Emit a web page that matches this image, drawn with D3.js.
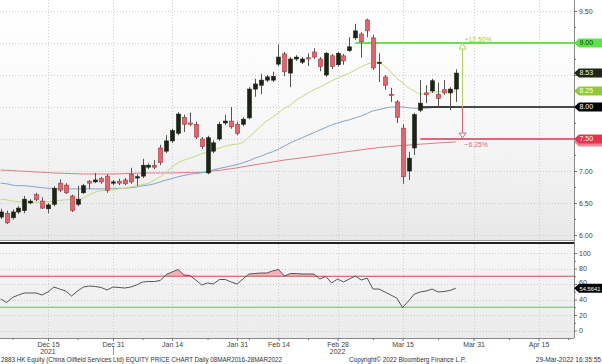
<!DOCTYPE html>
<html>
<head>
<meta charset="utf-8">
<script src="https://cdn.jsdelivr.net/npm/d3@7"></script>
<style>
body { margin: 0; background: #fff; }
svg { display: block; font-family: "Liberation Sans", Arial, sans-serif; }
</style>
</head>
<body>
<script>
// 2883 HK daily candles, 03DEC2021 - 28MAR2022
var holidays = ["2021-12-27", "2022-02-01", "2022-02-02", "2022-02-03"];
var firstDay = "2021-12-03", lastDay = "2022-03-28";

var open = [6.28,6.34,6.27,6.36,6.38,6.50,6.63,6.53,6.41,6.48,
  6.81,6.78,6.61,6.48,6.66,6.84,6.83,6.88,6.92,6.81,
  6.84,6.86,6.95,6.89,6.92,7.06,7.09,7.36,7.31,7.47,
  7.59,7.84,7.75,7.73,7.50,6.97,7.31,7.50,7.75,7.78,
  7.73,7.73,7.83,8.28,8.34,8.42,8.42,8.67,8.83,8.53,
  8.75,8.70,8.77,8.86,8.75,8.50,8.80,8.66,8.80,8.88,
  9.08,9.14,9.36,9.08,8.69,8.47,8.20,8.08,7.67,7.00,
  7.36,7.95,8.22,8.25,8.20,8.27,8.22,8.28];
var high = [6.41,6.38,6.40,6.45,6.61,6.56,6.66,6.59,6.50,6.76,
  6.87,6.81,6.63,6.77,6.80,6.86,6.97,6.91,6.95,6.86,
  6.88,6.89,7.05,6.95,7.19,7.12,7.17,7.41,7.56,7.66,
  7.92,7.88,7.91,7.77,7.53,7.55,7.48,7.77,7.88,8.00,
  7.77,7.84,8.31,8.44,8.52,8.50,8.55,8.98,8.86,8.78,
  8.81,8.78,8.84,8.92,8.78,8.86,8.83,8.86,8.83,9.09,
  9.30,9.17,9.38,9.13,8.84,8.50,8.30,8.11,7.73,7.30,
  7.91,8.42,8.34,8.44,8.38,8.42,8.31,8.59];
var low = [6.25,6.17,6.24,6.33,6.34,6.48,6.53,6.41,6.34,6.45,
  6.67,6.64,6.36,6.45,6.64,6.72,6.81,6.80,6.66,6.78,
  6.78,6.78,6.80,6.77,6.89,7.03,7.03,7.09,7.28,7.44,
  7.56,7.61,7.70,7.50,7.34,6.95,7.28,7.47,7.72,7.66,
  7.56,7.70,7.81,8.16,8.20,8.39,8.39,8.64,8.48,8.31,
  8.72,8.67,8.64,8.75,8.56,8.47,8.59,8.63,8.66,8.86,
  9.05,8.77,9.09,8.58,8.39,8.27,8.08,7.75,6.80,6.86,
  7.25,7.92,8.06,8.22,8.00,8.19,7.95,8.08];
var close = [6.36,6.19,6.36,6.42,6.56,6.53,6.55,6.42,6.47,6.73,
  6.70,6.66,6.38,6.56,6.77,6.81,6.86,6.83,6.70,6.83,
  6.81,6.80,6.83,6.91,7.09,7.09,7.06,7.13,7.47,7.63,
  7.89,7.73,7.73,7.53,7.38,7.52,7.44,7.73,7.78,7.69,
  7.59,7.81,8.28,8.36,8.42,8.47,8.48,8.78,8.55,8.75,
  8.78,8.75,8.75,8.78,8.63,8.84,8.63,8.84,8.72,8.94,
  9.19,9.02,9.19,8.61,8.70,8.34,8.19,7.84,6.91,7.20,
  7.88,8.06,8.19,8.41,8.13,8.22,8.28,8.53];

// moving averages
var maShort = [6.56,6.55,6.53,6.52,6.52,6.51,6.51,6.52,6.52,6.53,
  6.54,6.55,6.55,6.55,6.58,6.63,6.67,6.69,6.70,6.70,
  6.72,6.73,6.75,6.77,6.79,6.81,6.86,6.91,6.98,7.06,
  7.13,7.17,7.20,7.23,7.27,7.30,7.33,7.36,7.39,7.41,
  7.42,7.45,7.53,7.61,7.70,7.78,7.84,7.91,7.98,8.03,
  8.11,8.16,8.22,8.27,8.31,8.36,8.41,8.45,8.49,8.53,
  8.58,8.63,8.67,8.69,8.69,8.63,8.55,8.45,8.38,8.30,
  8.25,8.20,8.21,8.23,8.24,8.24,8.24,8.25];
var maMid = [6.81,6.80,6.78,6.77,6.77,6.76,6.75,6.74,6.73,6.73,
  6.72,6.72,6.72,6.72,6.72,6.72,6.72,6.72,6.72,6.73,
  6.73,6.73,6.74,6.75,6.77,6.78,6.80,6.83,6.86,6.88,
  6.91,6.93,6.95,6.96,6.97,6.99,7.02,7.04,7.06,7.08,
  7.10,7.13,7.16,7.20,7.23,7.27,7.30,7.34,7.39,7.44,
  7.48,7.52,7.56,7.60,7.64,7.68,7.72,7.75,7.78,7.80,
  7.83,7.86,7.90,7.94,7.96,7.98,8.00,8.00,8.00,7.99,
  7.98,7.98,7.98,7.99,8.00,8.00,8.00,8.00];
var maLong = [7.016,7.011,7.006,7.000,6.995,6.990,6.985,6.980,6.975,6.969,
  6.966,6.963,6.960,6.956,6.953,6.953,6.953,6.953,6.953,6.953,
  6.956,6.960,6.963,6.966,6.969,6.969,6.969,6.969,6.969,6.969,
  6.972,6.975,6.977,6.978,6.980,6.988,7.000,7.011,7.023,7.036,
  7.050,7.066,7.081,7.097,7.113,7.125,7.141,7.156,7.172,7.183,
  7.195,7.206,7.219,7.231,7.244,7.256,7.269,7.281,7.294,7.306,
  7.319,7.331,7.344,7.355,7.366,7.375,7.384,7.392,7.400,7.406,
  7.413,7.419,7.425,7.431,7.438,7.444,7.449,7.453];

var rsi = [40.6,36.1,42.6,45.8,48.4,48.4,48.4,45.8,49.7,56.1,
  53.5,51.0,44.5,51.0,56.1,57.4,56.8,55.5,52.3,56.1,
  55.5,54.8,56.1,58.7,62.6,63.2,63.2,64.5,72.3,75.5,
  78.7,71.6,71.0,65.2,58.7,61.3,60.0,65.8,65.8,62.6,
  60.0,66.5,72.9,73.5,74.2,74.2,76.8,78.7,70.3,73.5,
  73.5,72.9,72.9,72.9,66.5,69.7,61.3,66.5,62.6,66.5,
  70.3,65.2,67.7,53.5,53.5,49.7,45.8,41.9,29.7,38.1,
  47.1,49.7,51.0,53.5,49.7,50.3,51.6,54.5641];

var priceTicks = [6.00, 6.50, 7.00, 7.50, 8.00, 8.50, 9.00, 9.50];
var rsiTicks = [0, 20, 40, 60, 80, 100];
var dateTicks = ["2021-12-15","2021-12-31","2022-01-14","2022-01-31","2022-02-14",
                 "2022-02-28","2022-03-15","2022-03-31","2022-04-15"];
var minorDateTicks = ["2021-12-07","2021-12-22","2022-01-07","2022-01-24","2022-02-07",
                      "2022-02-21","2022-03-08","2022-03-23","2022-04-08","2022-04-22"];
var yearTicks = ["2021-12-15", "2022-02-28"];
var yearLabels = ["2021", "2022"];

// drawn levels: target, base, stop
var levelPrices = [9.00, 8.00, 7.50];
var levelFrom = ["2022-03-03", "2022-03-18", "2022-03-18"];
var arrowDay = "2022-03-29";
var rsiBands = [70, 30];

var footerLeft = "2883 HK Equity (China Oilfield Services Ltd) EQUITY PRICE CHART  Daily 08MAR2016-28MAR2022";
var footerMid = "Copyright\u00a9 2022 Bloomberg Finance L.P.";
var footerRight = "29-Mar-2022 16:35:55";

// ---- trading calendar (weekdays, HK holidays removed up to last bar) ----
var parse = d3.timeParse("%Y-%m-%d"), fmt = d3.timeFormat("%Y-%m-%d");
var days = d3.timeDay.range(parse(firstDay), parse("2022-05-01"))
  .filter(d => d.getDay() % 6 != 0)
  .filter(d => d > parse(lastDay) || holidays.indexOf(fmt(d)) < 0);
var dayIndex = {};
days.forEach((d, i) => dayIndex[fmt(d)] = i);
var idx = s => dayIndex[s];

var bars = close.map((c, i) => ({i: i, o: open[i], h: high[i], l: low[i], c: c}));

// ---- layout ----
var W = 602, H = 364;
var axisX = 574;
var mainTop = 0, mainBottom = 240;
var rsiTop = 244, rsiBottom = 338;

var svg = d3.select("body").append("svg")
  .attr("width", W).attr("height", H);

var defs = svg.append("defs");
var g1 = defs.append("linearGradient").attr("id", "bgMain")
  .attr("x1", 0).attr("y1", 0).attr("x2", 0).attr("y2", 1);
g1.append("stop").attr("offset", "0%").attr("stop-color", "#ffffff");
g1.append("stop").attr("offset", "45%").attr("stop-color", "#f9f9f9");
g1.append("stop").attr("offset", "100%").attr("stop-color", "#e8e8e8");
var g2 = defs.append("linearGradient").attr("id", "bgRsi")
  .attr("x1", 0).attr("y1", 0).attr("x2", 0).attr("y2", 1);
g2.append("stop").attr("offset", "0%").attr("stop-color", "#f7f7f7");
g2.append("stop").attr("offset", "100%").attr("stop-color", "#ebebeb");

svg.append("rect").attr("x", 0).attr("y", mainTop).attr("width", axisX).attr("height", mainBottom - mainTop)
  .attr("fill", "url(#bgMain)");
svg.append("rect").attr("x", 0).attr("y", rsiTop).attr("width", axisX).attr("height", rsiBottom - rsiTop)
  .attr("fill", "url(#bgRsi)");

var x = d3.scaleLinear().domain([0, 97]).range([0.7, axisX]);
var y = d3.scaleLinear().domain([6, 9.5]).range([235, 11]);
var r = d3.scaleLinear().domain([0, 100]).range([330.5, 253]);

// ---- grids ----
var grid = svg.append("g").attr("class", "grid")
  .attr("stroke", "#c4c4c4").attr("stroke-width", 0.8).attr("stroke-dasharray", "1,2");
grid.selectAll(".hp").data(priceTicks).enter().append("line")
  .attr("x1", 0).attr("x2", axisX).attr("y1", d => Math.round(y(d)) + 0.5).attr("y2", d => Math.round(y(d)) + 0.5);
grid.selectAll(".hr").data(rsiTicks).enter().append("line")
  .attr("x1", 0).attr("x2", axisX).attr("y1", d => Math.round(r(d)) + 0.5).attr("y2", d => Math.round(r(d)) + 0.5);
dateTicks.forEach(function(s) {
  var xx = Math.round(x(idx(s))) + 0.5;
  grid.append("line").attr("x1", xx).attr("x2", xx).attr("y1", mainTop).attr("y2", mainBottom);
  grid.append("line").attr("x1", xx).attr("x2", xx).attr("y1", rsiTop).attr("y2", rsiBottom);
});

// ---- moving averages ----
var maLine = d3.line().x((d, i) => x(i)).y(d => y(d)).curve(d3.curveMonotoneX);
svg.append("path").datum(maLong).attr("d", maLine).attr("fill", "none").attr("stroke", "#dc7b89").attr("stroke-width", 1);
svg.append("path").datum(maMid).attr("d", maLine).attr("fill", "none").attr("stroke", "#86a3c6").attr("stroke-width", 1);
svg.append("path").datum(maShort).attr("d", maLine).attr("fill", "none").attr("stroke", "#c2da80").attr("stroke-width", 1);

// ---- level lines ----
var levelColors = ["#6edc58", "#111111", "#d9687c"];
levelPrices.forEach(function(p, k) {
  svg.append("line")
    .attr("x1", x(idx(levelFrom[k]))).attr("x2", axisX)
    .attr("y1", y(p)).attr("y2", y(p))
    .attr("stroke", levelColors[k]).attr("stroke-width", k == 1 ? 1.5 : 2);
});

// ---- candles ----
var candles = svg.append("g").attr("class", "candles");
candles.selectAll("line").data(bars).enter().append("line")
  .attr("x1", d => Math.round(x(d.i)) + 0.5).attr("x2", d => Math.round(x(d.i)) + 0.5)
  .attr("y1", d => y(d.h)).attr("y2", d => y(d.l))
  .attr("stroke", "#555").attr("stroke-width", 1);
candles.selectAll("rect").data(bars).enter().append("rect")
  .attr("x", d => Math.round(x(d.i)) - 1.5)
  .attr("width", 4)
  .attr("y", d => y(Math.max(d.o, d.c)))
  .attr("height", d => Math.max(1.2, Math.abs(y(d.o) - y(d.c))))
  .attr("fill", d => d.c >= d.o ? "#1b2315" : "#e4636c")
  .attr("stroke", d => d.c >= d.o ? "#1b2315" : "#9c3a40")
  .attr("stroke-width", 0.6);

// ---- measuring arrow ----
var ax = Math.round(x(idx(arrowDay))) + 0.5;
var yT = y(levelPrices[0]), yB = y(levelPrices[1]), yS = y(levelPrices[2]);
svg.append("line").attr("x1", ax).attr("x2", ax).attr("y1", yT + 6).attr("y2", yB)
  .attr("stroke", "#b4d35a").attr("stroke-width", 1);
svg.append("path").attr("d", `M${ax},${yT} L${ax - 3.5},${yT + 6} L${ax + 3.5},${yT + 6} Z`)
  .attr("fill", "#fff").attr("stroke", "#b4d35a").attr("stroke-width", 1);
svg.append("line").attr("x1", ax).attr("x2", ax).attr("y1", yB).attr("y2", yS - 6)
  .attr("stroke", "#d9687c").attr("stroke-width", 1);
svg.append("path").attr("d", `M${ax},${yS - 1} L${ax - 3.5},${yS - 6} L${ax + 3.5},${yS - 6} Z`)
  .attr("fill", "#fff").attr("stroke", "#d9687c").attr("stroke-width", 1);
var pct = d3.format("+.2f");
svg.append("text").attr("x", ax + 2).attr("y", yT - 1.5)
  .attr("font-size", 6.8).attr("fill", "#a9cc4a")
  .text(pct((levelPrices[0] / levelPrices[1] - 1) * 100) + "%");
svg.append("text").attr("x", ax + 2).attr("y", yS + 7.5)
  .attr("font-size", 6.8).attr("fill", "#d9687c")
  .text(d3.format(".2f")((levelPrices[2] / levelPrices[1] - 1) * 100) + "%");

// ---- RSI panel ----
var rsiClipTop = defs.append("clipPath").attr("id", "aboveBand");
rsiClipTop.append("rect").attr("x", 0).attr("y", rsiTop).attr("width", axisX).attr("height", r(rsiBands[0]) - rsiTop);
var rsiClipBot = defs.append("clipPath").attr("id", "belowBand");
rsiClipBot.append("rect").attr("x", 0).attr("y", r(rsiBands[1])).attr("width", axisX).attr("height", rsiBottom - r(rsiBands[1]));

svg.append("path").datum(rsi)
  .attr("d", d3.area().x((d, i) => x(i)).y0(r(rsiBands[0])).y1(d => r(d)))
  .attr("fill", "#f4b3ba").attr("clip-path", "url(#aboveBand)");
svg.append("path").datum(rsi)
  .attr("d", d3.area().x((d, i) => x(i)).y0(r(rsiBands[1])).y1(d => r(d)))
  .attr("fill", "#b5e6b0").attr("clip-path", "url(#belowBand)");
svg.append("line").attr("x1", 0).attr("x2", axisX).attr("y1", r(rsiBands[0])).attr("y2", r(rsiBands[0]))
  .attr("stroke", "#c8525a").attr("stroke-width", 1);
svg.append("line").attr("x1", 0).attr("x2", axisX).attr("y1", r(rsiBands[1])).attr("y2", r(rsiBands[1]))
  .attr("stroke", "#66c35e").attr("stroke-width", 1);
svg.append("path").datum(rsi)
  .attr("d", d3.line().x((d, i) => x(i)).y(d => r(d)))
  .attr("fill", "none").attr("stroke", "#555").attr("stroke-width", 1);

// panel divider
svg.append("line").attr("x1", 0).attr("x2", axisX).attr("y1", 240.5).attr("y2", 240.5)
  .attr("stroke", "#9a9a9a").attr("stroke-width", 1);
svg.append("line").attr("x1", 0).attr("x2", axisX).attr("y1", 243).attr("y2", 243)
  .attr("stroke", "#222").attr("stroke-width", 2);

// ---- value tags (drawn later, they cover the axis labels they sit on) ----
var f2 = d3.format(".2f");
var tags = [
  {y: y(maLong[maLong.length - 1]), text: "", fill: "#e98595", color: "#fff"},
  {y: y(levelPrices[2]), text: f2(levelPrices[2]), fill: "#e8324c", color: "#fff"},
  {y: y(levelPrices[1]), text: f2(levelPrices[1]), fill: "#050505", color: "#fff"},
  {y: y(maShort[maShort.length - 1]), text: f2(maShort[maShort.length - 1]), fill: "#92c93c", color: "#f4ffe4"},
  {y: y(close[close.length - 1]), text: f2(close[close.length - 1]), fill: "#1e2816", color: "#e8eee0"},
  {y: y(levelPrices[0]), text: f2(levelPrices[0]), fill: "#5ee34a", color: "#103a10"}
];
var covered = v => tags.some(t => Math.abs(t.y - y(v)) < 5);

// ---- axes ----
function styleAxis(g) {
  g.select(".domain").attr("stroke", "#888");
  g.selectAll(".tick line").attr("stroke", "#777");
  g.selectAll(".tick text").attr("fill", "#444").attr("font-size", 7)
    .attr("font-family", "Liberation Sans, Arial, sans-serif");
}

var yAxis = d3.axisRight(y).tickValues(priceTicks).tickFormat(d3.format(".2f")).tickSize(3).tickPadding(2);
svg.append("g").attr("transform", `translate(${axisX},0)`).call(yAxis).call(styleAxis)
  .call(g => g.select(".domain").attr("d", `M0.5,${mainTop}V${mainBottom}`))
  .call(g => g.selectAll(".tick text").filter(d => covered(d)).remove());
var yMinor = d3.axisRight(y).tickValues(priceTicks.slice(0, -1).map(d => d + 0.25)).tickFormat("").tickSize(2);
svg.append("g").attr("transform", `translate(${axisX},0)`).call(yMinor).call(styleAxis)
  .call(g => g.select(".domain").remove());

var rAxis = d3.axisRight(r).tickValues(rsiTicks).tickSize(3).tickPadding(2);
svg.append("g").attr("transform", `translate(${axisX},0)`).call(rAxis).call(styleAxis)
  .call(g => g.select(".domain").attr("d", `M0.5,${mainBottom}V${rsiBottom}`))
  .call(g => g.selectAll(".tick text").filter(d => d == 60).attr("dy", "0.05em"));
var rMinor = d3.axisRight(r).tickValues([10, 30, 50, 70, 90]).tickFormat("").tickSize(2);
svg.append("g").attr("transform", `translate(${axisX},0)`).call(rMinor).call(styleAxis)
  .call(g => g.select(".domain").remove());

var dateFmt = d3.timeFormat("%b %-d");
var xAxis = d3.axisBottom(x).tickValues(dateTicks.map(idx))
  .tickFormat(i => dateFmt(days[i])).tickSize(3).tickPadding(1);
svg.append("g").attr("transform", `translate(0,${rsiBottom})`).call(xAxis).call(styleAxis)
  .call(g => g.select(".domain").attr("d", `M0,0.5H${axisX}`));
var xMinor = d3.axisBottom(x).tickValues(minorDateTicks.map(idx)).tickFormat("").tickSize(2);
svg.append("g").attr("transform", `translate(0,${rsiBottom})`).call(xMinor).call(styleAxis)
  .call(g => g.select(".domain").remove());

yearTicks.forEach(function(s, k) {
  svg.append("text").attr("x", x(idx(s))).attr("y", 353.5).attr("text-anchor", "middle")
    .attr("font-size", 7).attr("fill", "#444").text(yearLabels[k]);
});
// year boundary marker
svg.append("line").attr("x1", x(idx("2021-12-31")) + 0.5).attr("x2", x(idx("2021-12-31")) + 0.5)
  .attr("y1", 347).attr("y2", 355).attr("stroke", "#999");

function tag(yy, label, fill, color, size) {
  var h = 4.5;
  svg.append("path")
    .attr("d", `M${axisX},${yy} L${axisX + 5},${yy - h} L${W},${yy - h} L${W},${yy + h} L${axisX + 5},${yy + h} Z`)
    .attr("fill", fill);
  if (!label) return;
  var t = svg.append("text").attr("x", axisX + 5.5).attr("y", yy + 2.4)
    .attr("font-size", size || 7).attr("fill", color).text(label);
  if (size) t.attr("textLength", W - axisX - 7).attr("lengthAdjust", "spacingAndGlyphs");
}
tags.forEach(t => tag(t.y, t.text, t.fill, t.color));
tag(r(rsi[rsi.length - 1]), d3.format(".4f")(rsi[rsi.length - 1]), "#050505", "#fff", 6.2);

// ---- footer ----
svg.append("text").attr("x", 1).attr("y", 361.5).attr("font-size", 6.6).attr("fill", "#333")
  .attr("textLength", 281).attr("lengthAdjust", "spacingAndGlyphs").text(footerLeft);
svg.append("text").attr("x", 349).attr("y", 361.5).attr("font-size", 6.6).attr("fill", "#333")
  .attr("textLength", 117).attr("lengthAdjust", "spacingAndGlyphs").text(footerMid);
svg.append("text").attr("x", 601).attr("y", 361.5).attr("font-size", 6.6).attr("fill", "#333")
  .attr("text-anchor", "end").text(footerRight);
</script>
</body>
</html>
